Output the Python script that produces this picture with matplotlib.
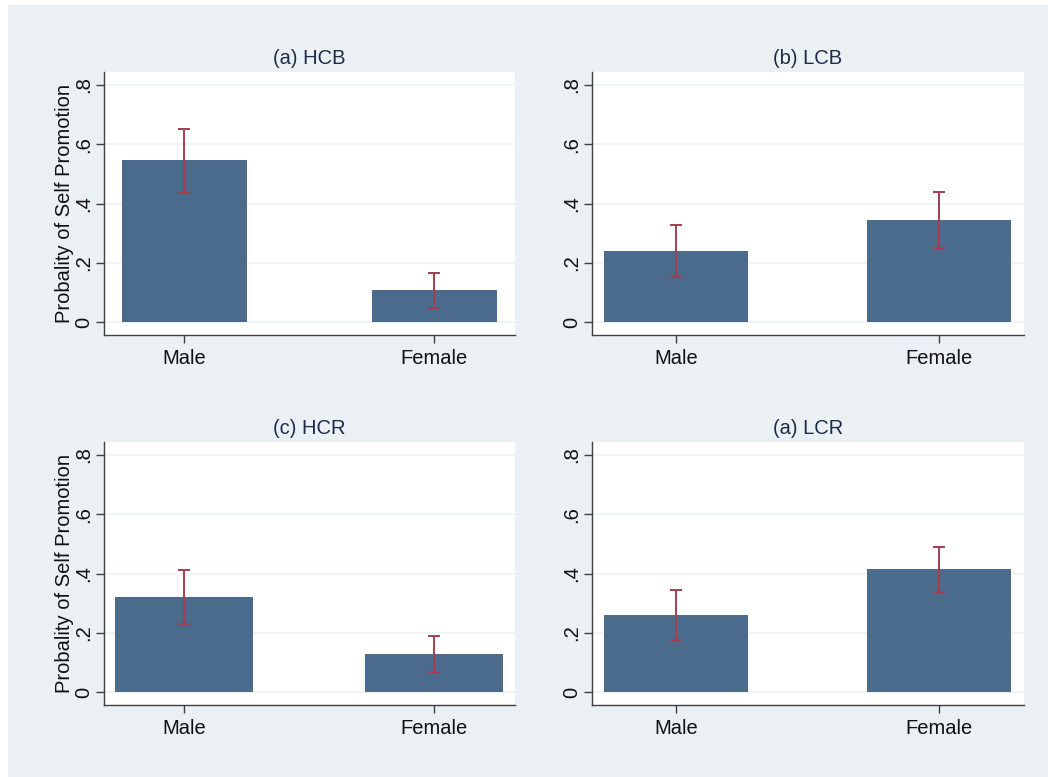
import matplotlib
matplotlib.use("Agg")
import matplotlib.pyplot as plt
from matplotlib.patches import Rectangle

plt.rcParams["font.family"] = ["Liberation Sans", "DejaVu Sans"]

# Data: predicted probability of self promotion with confidence intervals
categories = ["Male", "Female"]
panel_titles = ["(a) HCB", "(b) LCB", "(c) HCR", "(a) LCR"]
means = [
    [0.546, 0.108],
    [0.241, 0.344],
    [0.320, 0.129],
    [0.261, 0.416],
]
ci_low = [
    [0.434, 0.047],
    [0.151, 0.250],
    [0.231, 0.067],
    [0.174, 0.336],
]
ci_high = [
    [0.651, 0.166],
    [0.326, 0.440],
    [0.411, 0.190],
    [0.345, 0.491],
]
yticks = [0, 0.2, 0.4, 0.6, 0.8]
ytick_labels = ["0", ".2", ".4", ".6", ".8"]
ylabel = "Probality of Self Promotion"

BG = "#eaf0f3"
BAR = "#4a6b8b"
ERR = "#a63d50"
GRID = "#eef2f4"
AXIS = "#404040"
TITLE = "#1c2b48"
TEXT = "#111111"
FS = 14.5

W, H = 1048, 777
fig = plt.figure(figsize=(W / 100, H / 100), dpi=100)
fig.patch.set_facecolor("white")
fig.add_artist(Rectangle((8 / W, 0), 1 - 8 / W, 1 - 5 / H,
                         transform=fig.transFigure, facecolor=BG,
                         edgecolor="none", zorder=0))

# axes boxes in pixels: left, top, right, bottom
boxes = [
    (104, 72, 515, 335),
    (592, 72, 1024, 335),
    (104, 442, 515, 705),
    (592, 442, 1024, 705),
]
bar_widths = [0.50, 0.55, 0.55, 0.55]

x = [0, 1]
for i, (l, t, r, b) in enumerate(boxes):
    ax = fig.add_axes([l / W, 1 - b / H, (r - l) / W, (b - t) / H])
    ax.set_facecolor("white")
    ax.set_xlim(-0.32, 1.324)
    ax.set_ylim(-0.044, 0.844)
    for y in yticks:
        ax.axhline(y, color=GRID, lw=1.2, zorder=0)
    m = means[i]
    lo = [m[k] - ci_low[i][k] for k in range(2)]
    hi = [ci_high[i][k] - m[k] for k in range(2)]
    ax.bar(x, m, width=bar_widths[i], color=BAR, zorder=2)
    ax.errorbar(x, m, yerr=[lo, hi], fmt="none", ecolor=ERR,
                elinewidth=1.4, capsize=4.3, capthick=1.4, zorder=3)
    for s in ["top", "right"]:
        ax.spines[s].set_visible(False)
    for s in ["left", "bottom"]:
        ax.spines[s].set_color(AXIS)
        ax.spines[s].set_linewidth(1.0)
    ax.set_yticks(yticks)
    ax.set_yticklabels(ytick_labels, rotation=90, va="center",
                       fontsize=FS, color=TEXT)
    ax.set_xticks(x)
    ax.set_xticklabels(categories, fontsize=FS, color=TEXT)
    ax.tick_params(axis="both", length=6, width=1.0, color=AXIS)
    ax.tick_params(axis="y", pad=2)
    ax.tick_params(axis="x", pad=4)
    ax.set_title(panel_titles[i], fontsize=FS, color=TITLE, pad=6)
    if i % 2 == 0:
        ax.set_ylabel(ylabel, fontsize=FS, color=TEXT, labelpad=0)

fig.savefig("out.png", dpi=100, facecolor=fig.get_facecolor())
